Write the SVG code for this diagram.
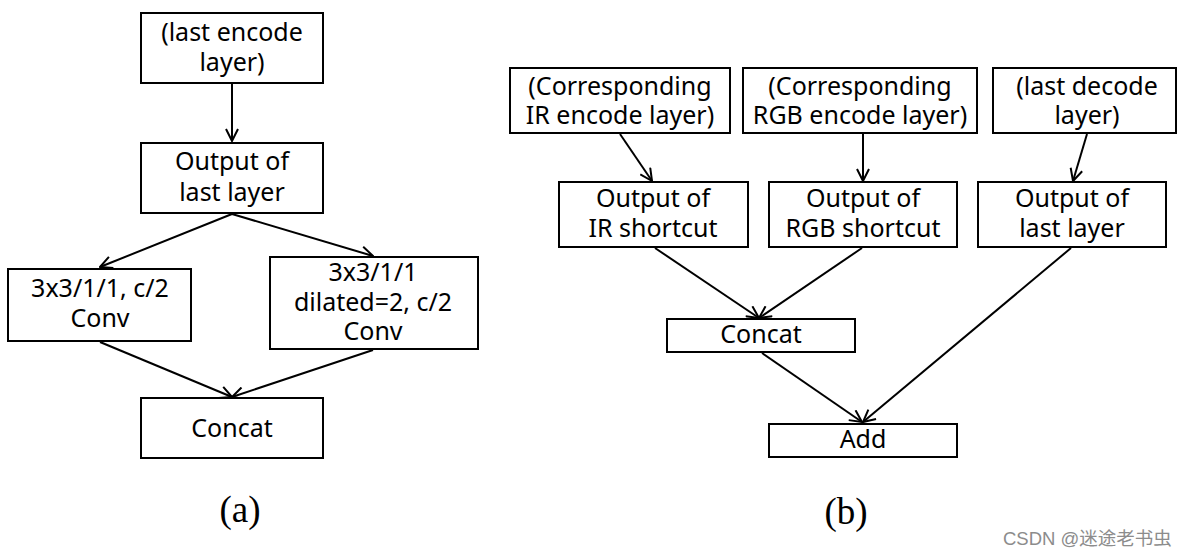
<svg xmlns="http://www.w3.org/2000/svg" width="1190" height="555" viewBox="0 0 1190 555">
<style>
  .box { fill: #fff; stroke: #000; stroke-width: 2; }
  .t { font-family: "Noto Sans", "Open Sans", sans-serif; font-size: 25px; fill: #000; text-anchor: middle; }
  .cap { font-family: "Liberation Serif", serif; font-size: 37px; fill: #000; text-anchor: middle; }
  .wm { font-family: "Liberation Sans", "Noto Sans CJK SC", sans-serif; font-size: 18.5px; fill: #8c8c8c; }
  .c { stroke: #000; stroke-width: 2; fill: none; marker-end: url(#ah); }
</style>
<defs>
  <marker id="ah" viewBox="0 0 14 14" refX="13" refY="7" markerWidth="14" markerHeight="14" markerUnits="userSpaceOnUse" orient="auto">
    <path d="M1,1 L13,7 L1,13" fill="none" stroke="#000" stroke-width="2"/>
  </marker>
</defs>
<rect width="1190" height="555" fill="#fff"/>

<g id="connectors">
  <line class="c" x1="232" y1="84" x2="232" y2="141"/>
  <line class="c" x1="232" y1="214" x2="100" y2="267"/>
  <line class="c" x1="232" y1="214" x2="373" y2="256"/>
  <line class="c" x1="100" y1="342" x2="232" y2="397"/>
  <line class="c" x1="373" y1="350" x2="232" y2="397"/>

  <line class="c" x1="620" y1="134" x2="652" y2="181"/>
  <line class="c" x1="863" y1="134" x2="863" y2="181"/>
  <line class="c" x1="1087" y1="134" x2="1073" y2="181"/>
  <line class="c" x1="655" y1="248" x2="759" y2="318"/>
  <line class="c" x1="862" y1="248" x2="759" y2="318"/>
  <line class="c" x1="762" y1="353" x2="862" y2="422"/>
  <line class="c" x1="1071" y1="248" x2="863" y2="422"/>
</g>

<g id="a-last-encode">
  <rect class="box" x="141" y="13" width="182" height="70"/>
  <text class="t" x="232" y="41">(last encode</text>
  <text class="t" x="232" y="71">layer)</text>
</g>
<g id="a-output">
  <rect class="box" x="141" y="143" width="182" height="70"/>
  <text class="t" x="232" y="170">Output of</text>
  <text class="t" x="232" y="201">last layer</text>
</g>
<g id="a-conv1">
  <rect class="box" x="8" y="269" width="183" height="72"/>
  <text class="t" x="100" y="297">3x3/1/1, c/2</text>
  <text class="t" x="100" y="327">Conv</text>
</g>
<g id="a-conv2">
  <rect class="box" x="270" y="257" width="208" height="92"/>
  <text class="t" x="373" y="281">3x3/1/1</text>
  <text class="t" x="373" y="311">dilated=2, c/2</text>
  <text class="t" x="373" y="340">Conv</text>
</g>
<g id="a-concat">
  <rect class="box" x="141" y="398" width="182" height="60"/>
  <text class="t" x="232" y="437">Concat</text>
</g>
<text class="cap" x="240" y="522">(a)</text>

<g id="b-ir-enc">
  <rect class="box" x="510" y="68" width="220" height="65"/>
  <text class="t" x="620" y="95">(Corresponding</text>
  <text class="t" x="620" y="124">IR encode layer)</text>
</g>
<g id="b-rgb-enc">
  <rect class="box" x="743" y="68" width="234" height="65"/>
  <text class="t" x="860" y="95">(Corresponding</text>
  <text class="t" x="860" y="124">RGB encode layer)</text>
</g>
<g id="b-last-dec">
  <rect class="box" x="993" y="68" width="183" height="65"/>
  <text class="t" x="1087" y="95">(last decode</text>
  <text class="t" x="1087" y="124">layer)</text>
</g>
<g id="b-out-ir">
  <rect class="box" x="559" y="182" width="189" height="65"/>
  <text class="t" x="653" y="207">Output of</text>
  <text class="t" x="653" y="237">IR shortcut</text>
</g>
<g id="b-out-rgb">
  <rect class="box" x="769" y="182" width="188" height="65"/>
  <text class="t" x="863" y="207">Output of</text>
  <text class="t" x="863" y="237">RGB shortcut</text>
</g>
<g id="b-out-last">
  <rect class="box" x="978" y="182" width="188" height="65"/>
  <text class="t" x="1072" y="207">Output of</text>
  <text class="t" x="1072" y="237">last layer</text>
</g>
<g id="b-concat">
  <rect class="box" x="667" y="319" width="188" height="33"/>
  <text class="t" x="761" y="343">Concat</text>
</g>
<g id="b-add">
  <rect class="box" x="769" y="424" width="188" height="33"/>
  <text class="t" x="863" y="448">Add</text>
</g>
<text class="cap" x="846" y="524">(b)</text>
<text class="wm" x="1003" y="545">CSDN @迷途老书虫</text>
</svg>
